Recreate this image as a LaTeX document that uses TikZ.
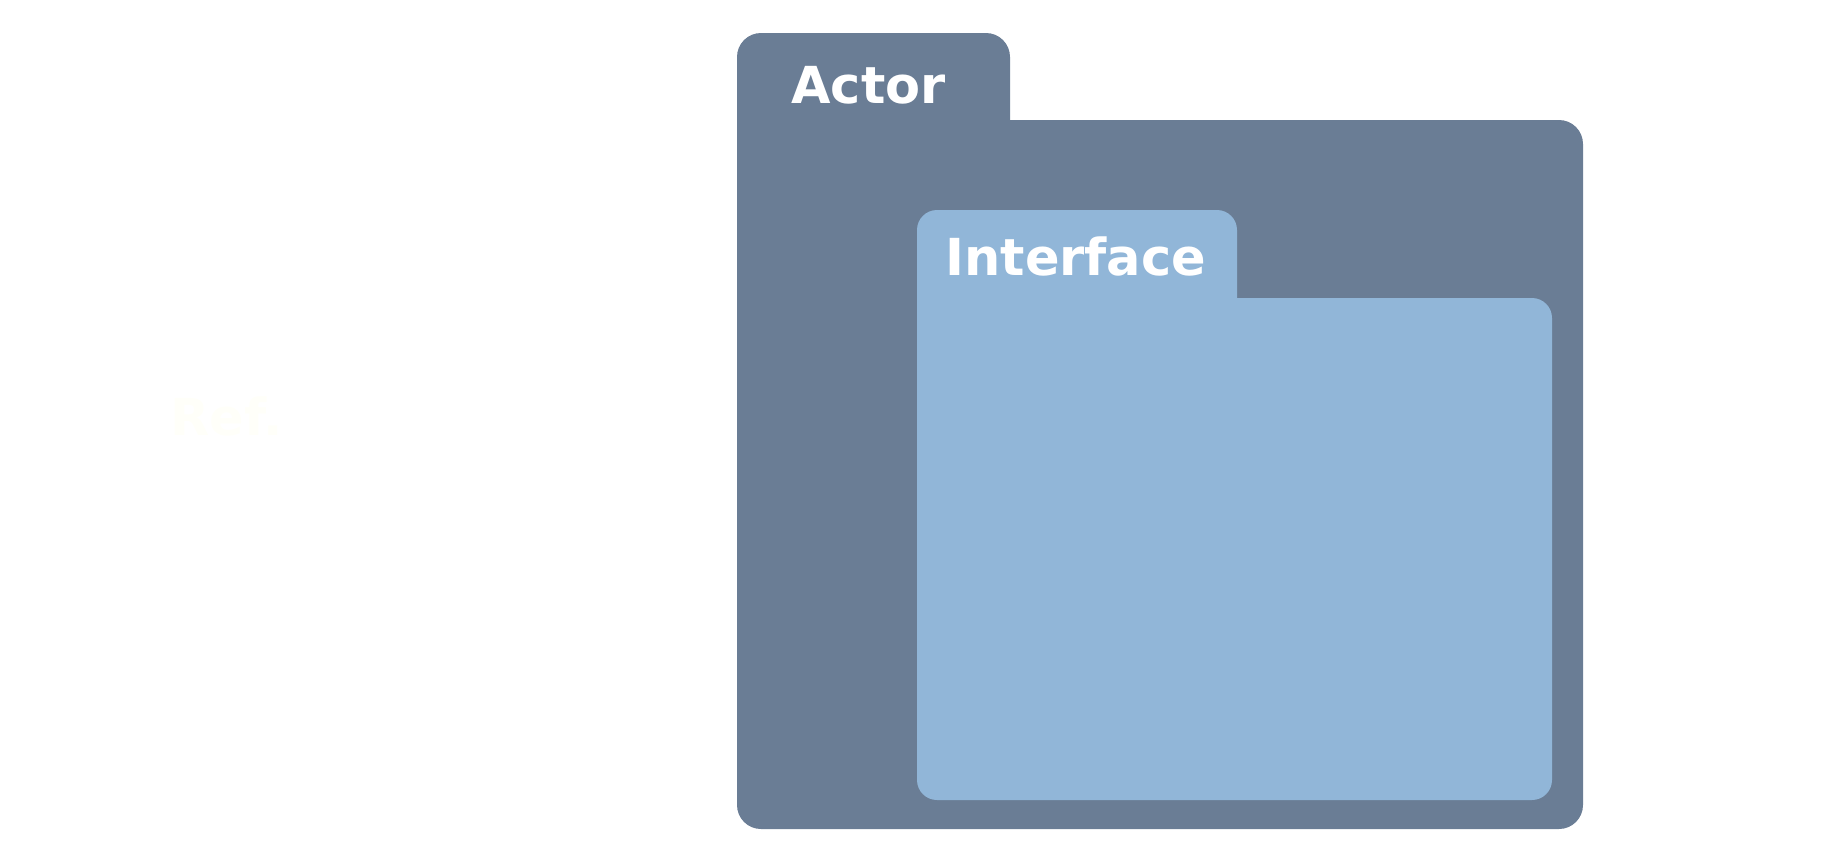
\documentclass[tikz,border=0pt]{standalone}
\usepackage{fontspec}
\setmainfont{DejaVu Sans}[BoldFont={DejaVu Sans Bold}]
\definecolor{actorc}{HTML}{6A7D95}
\definecolor{ifacec}{HTML}{91B6D8}
\definecolor{refc}{HTML}{FFFFF9}
\begin{document}
\begin{tikzpicture}[x=0.5pt,y=-0.5pt,
  lbl/.style={anchor=base west,inner sep=0pt,font=\bfseries\fontsize{25.5pt}{30pt}\selectfont,text=white}]
\useasboundingbox (0,0) rectangle (1848,864);
% Actor folder
\fill[actorc,rounded corners=12pt] (737,33) rectangle (1010,220);
\fill[actorc,rounded corners=12pt] (737,120) rectangle (1583,829);
\node[lbl] (actor) at (791,103) {Actor};
% Interface folder
\fill[ifacec,rounded corners=10pt] (917,210) rectangle (1237,360);
\fill[ifacec,rounded corners=10pt] (917,298) rectangle (1552,800);
\node[lbl] (iface) at (945,275) {Interface};
% faint label
\node[lbl,text=refc] (ref) at (170,435) {Ref.};
\end{tikzpicture}
\end{document}
